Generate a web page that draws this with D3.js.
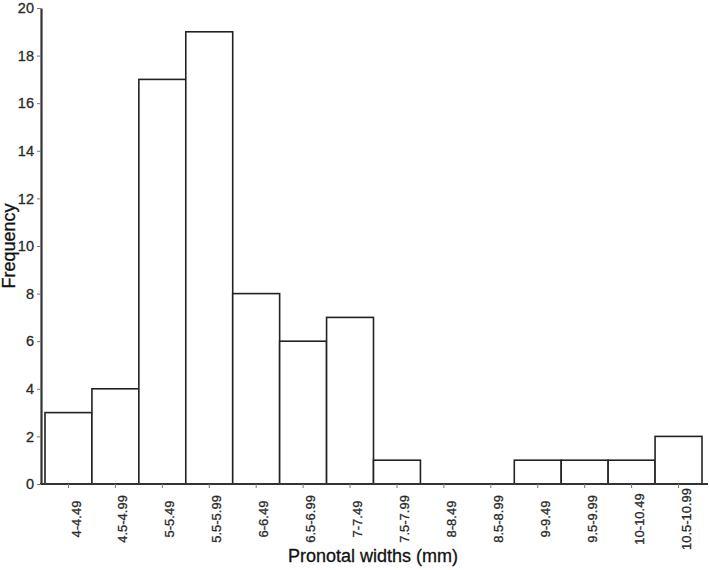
<!DOCTYPE html>
<html>
<head>
<meta charset="utf-8">
<script src="https://cdn.jsdelivr.net/npm/d3@7"></script>
<style>
  body { margin: 0; background: #fff; }
  svg { display: block; font-family: "Liberation Sans", Arial, sans-serif; }
</style>
</head>
<body>
<div id="chart"></div>
<script>
// pronotal width classes and their counts
var categories = ["4-4.49", "4.5-4.99", "5-5.49", "5.5-5.99", "6-6.49", "6.5-6.99", "7-7.49",
                  "7.5-7.99", "8-8.49", "8.5-8.99", "9-9.49", "9.5-9.99", "10-10.49", "10.5-10.99"];
var frequency = [3, 4, 17, 19, 8, 6, 7, 1, 0, 0, 1, 1, 1, 2];
var yTicks = [0, 2, 4, 6, 8, 10, 12, 14, 16, 18, 20];

var width = 709, height = 570;
var svg = d3.select("#chart").append("svg")
    .attr("width", width)
    .attr("height", height);

var x = d3.scaleBand()
    .domain(categories)
    .range([45, 702])
    .padding(0);
var y = d3.scaleLinear()
    .domain([0, 20])
    .range([484, 8]);

var axisColor = "#333";
var textColor = "#2a2a2a";

// bars
svg.append("g")
    .selectAll("rect")
    .data(categories.map(function(c, i) { return {cat: c, value: frequency[i]}; }))
    .enter()
    .append("rect")
        .attr("x", function(d) { return x(d.cat); })
        .attr("y", function(d) { return y(d.value); })
        .attr("width", x.bandwidth())
        .attr("height", function(d) { return y(0) - y(d.value); })
        .attr("fill", "#fff")
        .attr("stroke", "#222")
        .style("stroke-width", 1.6);

// x axis
var xAxis = svg.append("g")
    .attr("transform", "translate(0," + y(0) + ")")
    .call(d3.axisBottom(x).tickSize(4).tickSizeOuter(0));
xAxis.select(".domain")
    .attr("d", "M40,0H708")
    .attr("stroke", axisColor)
    .style("stroke-width", 2);
xAxis.selectAll(".tick line").attr("stroke", "#777");
// rotated labels, centred vertically below the axis
xAxis.selectAll(".tick text")
    .attr("transform", "rotate(-90)")
    .attr("x", -35)
    .attr("y", 7.5)
    .attr("dy", "0.35em")
    .attr("text-anchor", "middle")
    .attr("fill", textColor)
    .attr("stroke", textColor)
    .style("stroke-width", 0.3)
    .style("font-size", "13px");

// y axis
var yAxis = svg.append("g")
    .attr("transform", "translate(41,0)")
    .call(d3.axisLeft(y).tickValues(yTicks).tickSize(4).tickSizeOuter(0).tickPadding(3));
yAxis.select(".domain")
    .attr("stroke", axisColor)
    .style("stroke-width", 2.2);
yAxis.selectAll(".tick line").attr("stroke", "#777");
yAxis.selectAll(".tick text")
    .attr("fill", textColor)
    .attr("stroke", textColor)
    .style("stroke-width", 0.3)
    .style("font-size", "14.5px");

// axis titles
svg.append("text")
    .attr("x", 373)
    .attr("y", 562)
    .attr("text-anchor", "middle")
    .attr("fill", "#111")
    .attr("stroke", "#111")
    .style("stroke-width", 0.3)
    .style("font-size", "18px")
    .text("Pronotal widths (mm)");

svg.append("text")
    .attr("transform", "translate(15,246) rotate(-90)")
    .attr("text-anchor", "middle")
    .attr("fill", "#111")
    .attr("stroke", "#111")
    .style("stroke-width", 0.3)
    .style("font-size", "18px")
    .text("Frequency");
</script>
</body>
</html>
